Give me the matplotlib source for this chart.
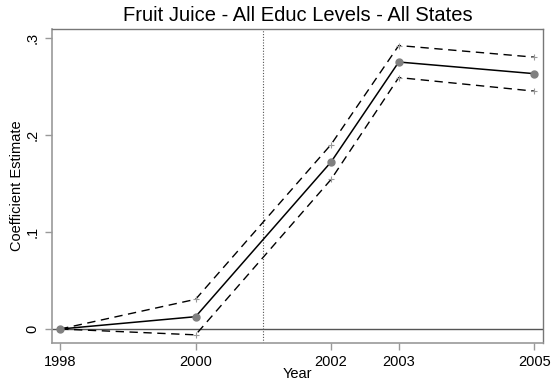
import matplotlib.pyplot as plt

years = [1998, 2000, 2002, 2003, 2005]
coef = [0.0, 0.0127, 0.172, 0.275, 0.263]
upper = [0.0, 0.0306, 0.190, 0.292, 0.280]
lower = [0.0, -0.006, 0.154, 0.259, 0.245]
yticks = [0, 0.1, 0.2, 0.3]
ytick_labels = ['0', '.1', '.2', '.3']
policy_year = 2001

plt.rcParams['font.family'] = ['Liberation Sans', 'DejaVu Sans']

fig = plt.figure(figsize=(5.57, 3.85), dpi=100)
ax = fig.add_axes([52 / 557, 1 - 343 / 385, 491 / 557, 314 / 385])

ax.axhline(0, color='#555555', lw=1.0, zorder=1)
ax.axvline(policy_year, color='#555555', lw=0.8, linestyle=(0, (1, 1.5)), zorder=1)

ax.plot(years, upper, color='black', lw=1.0, linestyle=(0, (6, 4)), zorder=2)
ax.plot(years, lower, color='black', lw=1.0, linestyle=(0, (6, 4)), zorder=2)
ax.plot(years, upper, linestyle='none', marker='+', ms=4, mew=0.8, color='#999999', zorder=3)
ax.plot(years, lower, linestyle='none', marker='+', ms=4, mew=0.8, color='#999999', zorder=3)
ax.plot(years, coef, color='black', lw=1.1, zorder=2)
ax.plot(years, coef, linestyle='none', marker='o', ms=5, color='#808080', zorder=3)

ax.set_xlim(1997.88, 2005.13)
ax.set_ylim(-0.0144, 0.309)
ax.set_xticks(years)
ax.set_xticklabels([str(y) for y in years], fontsize=10.5)
ax.set_yticks(yticks)
ax.set_yticklabels(ytick_labels, fontsize=10.5, rotation=90, va='center')

for side in ['left', 'bottom']:
    ax.spines[side].set_color('#999999')
    ax.spines[side].set_linewidth(1.2)
for side in ['top', 'right']:
    ax.spines[side].set_color('#777777')
    ax.spines[side].set_linewidth(1.0)
ax.tick_params(axis='both', color='#999999', length=5, width=1.0, pad=4)

ax.set_title('Fruit Juice - All Educ Levels - All States', fontsize=14.5, pad=6)
ax.set_xlabel('Year', fontsize=10.5, labelpad=-2)
ax.set_ylabel('Coefficient Estimate', fontsize=10.5, labelpad=1)

fig.savefig('out.png', dpi=100)
